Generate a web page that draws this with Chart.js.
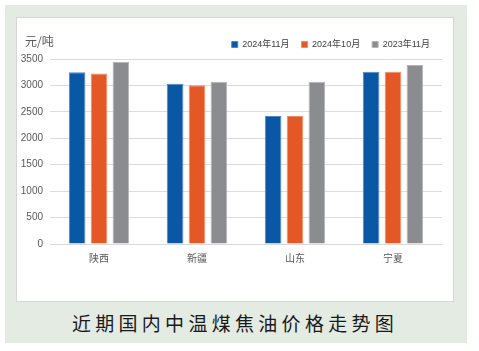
<!DOCTYPE html>
<html>
<head>
<meta charset="utf-8">
<script src="https://cdn.jsdelivr.net/npm/chart.js@4.4.1/dist/chart.umd.min.js"></script>
<style>
    body { margin: 0; background: #fff; width: 479px; height: 351px; position: relative; overflow: hidden; }
    #frame { position: absolute; left: 5px; top: 5px; width: 462px; height: 338px; background: #e3ebe3; }
    #box { position: absolute; left: 16px; top: 17px; width: 436px; height: 283px; background: #fff; border: 1px solid #d4d8d4; }
    #unit { position: absolute; left: 25px; top: 32px; font: 12px "Noto Sans CJK SC", sans-serif; color: #595959; }
    #caption { position: absolute; left: 0; width: 470px; top: 309px; text-align: center;
        font: 19px "Noto Sans CJK SC", sans-serif; letter-spacing: 4.3px; color: #1a1a1a; }
    #wrap { position: absolute; left: 17px; top: 18px; width: 435px; height: 282px; }
</style>
</head>
<body>
<div id="frame"></div>
<div id="box"></div>
<div id="wrap"><canvas id="chart"></canvas></div>
<div id="unit">元/吨</div>
<div id="caption">近期国内中温煤焦油价格走势图</div>
<script>
// data
const regions = ['陕西', '新疆', '山东', '宁夏'];
const seriesNames = ['2024年11月', '2024年10月', '2023年11月'];
const nov2024 = [3250, 3030, 2420, 3260];
const oct2024 = [3225, 3005, 2420, 3260];
const nov2023 = [3445, 3070, 3070, 3385];
const yTicks = [0, 500, 1000, 1500, 2000, 2500, 3000, 3500];

const colors = ['#0a57a6', '#e45727', '#8a8c8f'];
const edges = ['#4f86c4', '#f08a63', '#b3b5b7'];

const tickFont = { family: '"Liberation Sans", "Noto Sans CJK SC", sans-serif', size: 10 };

const ctx = document.getElementById('chart').getContext('2d');
new Chart(ctx, {
    type: 'bar',
    data: {
        labels: regions,
        datasets: [nov2024, oct2024, nov2023].map((vals, k) => ({
            label: seriesNames[k],
            data: vals,
            backgroundColor: colors[k],
            borderColor: edges[k],
            borderWidth: 1,
            barPercentage: 0.76,
            categoryPercentage: 0.67
        }))
    },
    options: {
        responsive: true,
        maintainAspectRatio: false,
        animation: false,
        layout: { padding: { top: 10, right: 10, bottom: 34, left: 0 } },
        plugins: {
            tooltip: { enabled: false },
            legend: {
                position: 'top',
                align: 'end',
                labels: {
                    boxWidth: 6,
                    boxHeight: 6,
                    padding: 12,
                    color: '#404040',
                    font: { family: '"Liberation Sans", "Noto Sans CJK SC", sans-serif', size: 9 }
                }
            }
        },
        scales: {
            x: {
                grid: { display: false },
                border: { color: '#d9d9d9' },
                ticks: { color: '#595959', font: tickFont, padding: 1 }
            },
            y: {
                min: 0,
                max: 3500,
                afterFit: (s) => { s.width = 33; },
                afterBuildTicks: (s) => { s.ticks = yTicks.map(v => ({ value: v })); },
                grid: { color: '#dcdcdc', drawTicks: false },
                border: { display: false },
                ticks: { color: '#595959', font: tickFont, padding: 7, callback: (v) => String(v) }
            }
        }
    }
});
</script>
</body>
</html>
